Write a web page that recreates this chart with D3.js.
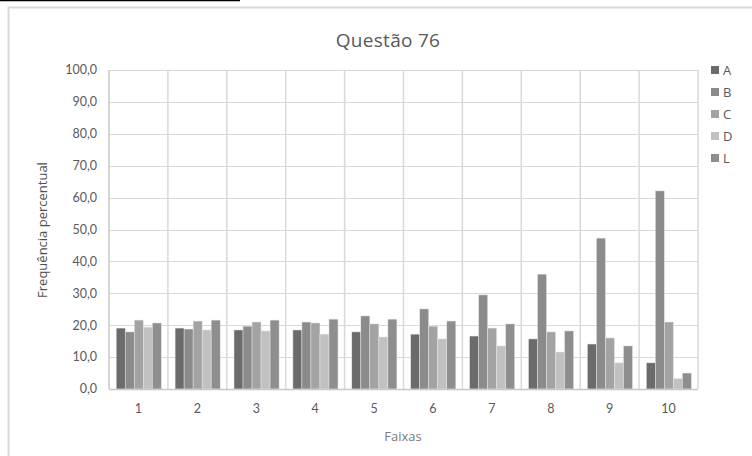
<!DOCTYPE html>
<html><head><meta charset="utf-8">
<script src="https://cdn.jsdelivr.net/npm/d3@7"></script>
<style>html,body{margin:0;padding:0;background:#fff;}svg{display:block;}</style>
</head><body>
<svg id="c" width="752" height="456"></svg>
<script>
const categories = ["1","2","3","4","5","6","7","8","9","10"];
const seriesNames = ["A","B","C","D","L"];
const seriesA = [19.1,19.1,18.5,18.5,17.9,17.2,16.6,15.7,14.1,8.2];
const seriesB = [17.9,18.8,19.7,21.0,22.9,25.1,29.5,36.0,47.3,62.1];
const seriesC = [21.6,21.3,21.0,20.7,20.4,19.7,19.1,17.9,16.0,21.0];
const seriesD = [19.4,18.5,18.2,17.2,16.3,15.7,13.5,11.6,8.2,3.3];
const seriesL = [20.7,21.6,21.6,21.9,21.9,21.3,20.4,18.2,13.5,5.0];
const yTicks = [0,10,20,30,40,50,60,70,80,90,100];
const colors = ["#6b6b6b","#8b8b8b","#a3a3a3","#c1c1c1","#8e8e8e"];
const allSeries = [seriesA,seriesB,seriesC,seriesD,seriesL];

const font = "Lato, 'Open Sans', sans-serif";
const tfont = "'Open Sans', Lato, sans-serif";
const txt = "#595959";
const svg = d3.select("#c");

// document line and chart frame
svg.append("line").attr("x1",0).attr("x2",240).attr("y1",0.5).attr("y2",0.5).attr("stroke","#000").attr("stroke-width",1.5);
svg.append("path").attr("d","M8.5,460 V7.5 H760").attr("fill","none").attr("stroke","#d9d9d9").attr("stroke-width",2);

const L=109, R=698, T=70, B=389;
const x0 = d3.scaleBand().domain(categories).range([L,R]).padding(0);
const x1 = d3.scaleBand().domain(seriesNames).range([7.2, x0.bandwidth()-6.6]).padding(0);
const y = d3.scaleLinear().domain([0,100]).range([B,T]);

// horizontal gridlines
svg.append("g").selectAll("line").data(yTicks.filter(d=>d>0)).join("line")
  .attr("x1",L).attr("x2",R).attr("y1",d=>Math.round(y(d))+0.5).attr("y2",d=>Math.round(y(d))+0.5)
  .attr("stroke","#d9d9d9").attr("stroke-width",1);
// vertical gridlines at category boundaries
svg.append("g").selectAll("line").data(categories.slice(1).concat(["end"])).join("line")
  .attr("x1",(d,i)=>i<categories.length-1?x0(d):R).attr("x2",(d,i)=>i<categories.length-1?x0(d):R)
  .attr("y1",T).attr("y2",B).attr("stroke","#d9d9d9").attr("stroke-width",1.5);

// bars
const g = svg.append("g");
categories.forEach((c,ci)=>{
  seriesNames.forEach((s,si)=>{
    const v = allSeries[si][ci];
    g.append("rect").attr("x",x0(c)+x1(s)).attr("width",x1.bandwidth())
      .attr("y",y(v)).attr("height",y(0)-y(v)).attr("fill",colors[si])
      .attr("stroke","#e6e6e6").attr("stroke-width",0.5);
  });
});

// axes lines
svg.append("line").attr("x1",L).attr("x2",L).attr("y1",T).attr("y2",B).attr("stroke","#c8c8c8").attr("stroke-width",1.5);
svg.append("line").attr("x1",L).attr("x2",R).attr("y1",B+0.5).attr("y2",B+0.5).attr("stroke","#c8c8c8").attr("stroke-width",1.5);

// y tick labels
svg.append("g").selectAll("text").data(yTicks).join("text")
  .attr("x",97).attr("y",d=>y(d)).attr("dy","0.35em").attr("text-anchor","end")
  .attr("font-family",font).attr("font-size",12.5).attr("fill",txt)
  .text(d=>d.toFixed(1).replace(".",","));
// x tick labels
svg.append("g").selectAll("text").data(categories).join("text")
  .attr("x",d=>x0(d)+x0.bandwidth()/2).attr("y",409).attr("dy","0.35em").attr("text-anchor","middle")
  .attr("font-family",font).attr("font-size",12.5).attr("fill",txt).text(d=>d);

// titles
svg.append("text").attr("x",388).attr("y",40).attr("dy","0.35em").attr("text-anchor","middle")
  .attr("font-family",tfont).attr("font-size",19).attr("fill",txt).attr("letter-spacing",0.3).text("Questão 76");
svg.append("text").attr("x",403).attr("y",436).attr("dy","0.35em").attr("text-anchor","middle")
  .attr("font-family",tfont).attr("font-size",13).attr("fill","#7a7a7a").text("Faixas");
svg.append("text").attr("transform","translate(42,230) rotate(-90)").attr("dy","0.35em").attr("text-anchor","middle")
  .attr("font-family",tfont).attr("font-size",13).attr("fill","#505050").text("Frequência percentual");

// legend
const lg = svg.append("g");
seriesNames.forEach((s,i)=>{
  const ly = 70 + i*22;
  lg.append("rect").attr("x",711).attr("y",ly-4).attr("width",8).attr("height",8).attr("fill",colors[i]);
  lg.append("text").attr("x",723).attr("y",ly).attr("dy","0.35em").attr("font-family",tfont)
    .attr("font-size",13).attr("fill",txt).text(s);
});
</script>
</body></html>
